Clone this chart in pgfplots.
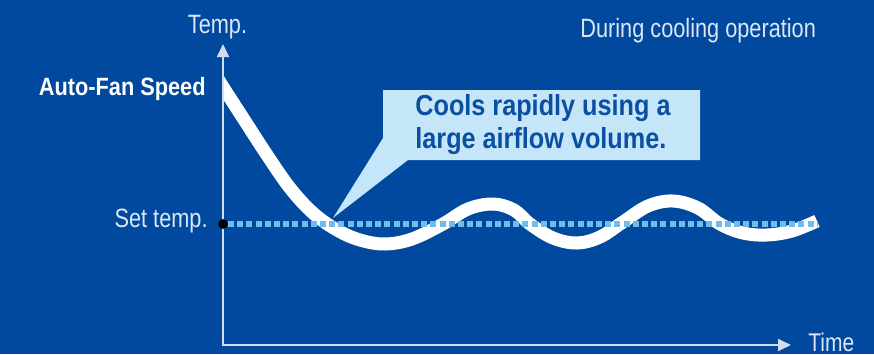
\documentclass[border=0pt]{standalone}
\usepackage{pgfplots}
\pgfplotsset{compat=1.18}
\usepackage{fontspec}
\setmainfont{Liberation Sans}[FakeStretch=0.82]
\newfontfamily\condbold{Liberation Sans}[FakeStretch=0.87]
\usetikzlibrary{arrows.meta}
\definecolor{bgblue}{RGB}{0,73,158}
\definecolor{calloutfill}{RGB}{197,229,248}
\definecolor{callouttext}{RGB}{11,79,163}
\definecolor{dashblue}{RGB}{111,188,235}
\definecolor{axiscol}{RGB}{208,220,240}
\definecolor{labelcol}{RGB}{220,230,245}
\begin{document}
\begin{tikzpicture}
\begin{axis}[
  width=437pt, height=177pt, scale only axis,
  xmin=0, xmax=874, ymin=0, ymax=354, y dir=reverse,
  axis lines=none, clip=false,
  axis background/.style={fill=bgblue},
]
% axes
\draw[axiscol, line width=1pt, -{Triangle[length=6.5pt,width=6pt]}] (axis cs:223,346) -- (axis cs:223,44);
\draw[axiscol, line width=1pt, -{Triangle[length=6.5pt,width=6pt]}] (axis cs:222,345) -- (axis cs:791,345);
% callout
\fill[calloutfill] (axis cs:383,90) -- (axis cs:700,90) -- (axis cs:700,160) -- (axis cs:408,160) -- (axis cs:333,218) -- (axis cs:383,138) -- cycle;
% temperature curve
\begin{scope}
\clip (axis cs:224,0) rectangle (axis cs:874,354);
\addplot[white, line width=6.5pt, smooth, tension=0.6] coordinates {
(218,79) (223,87) (243,118) (267,155) (290,188) (313,213) (337,230) (360,240) (385,244)
(412,239) (443,224) (468,209) (493,204) (514,210) (530,224) (553,238) (577,243)
(600,237) (623,222) (648,206) (673,201) (698,208) (720,224) (743,233) (767,235)
(792,231) (817,221)
};
\end{scope}
% set temperature
\addplot[dashblue, line width=2.75pt, dash pattern=on 3pt off 1.6pt] coordinates {(228,224) (817,224)};
\addplot[only marks, mark=*, mark size=2.2pt, black] coordinates {(223,224)};
% texts
\node[anchor=base, inner sep=0, text=labelcol, font=\fontsize{13.25}{16}\selectfont] at (axis cs:217.5,33) {Temp.};
\node[anchor=base west, inner sep=0, text=labelcol, font=\fontsize{13.25}{16}\selectfont] at (axis cs:580,37) {During cooling operation};
\node[anchor=base east, inner sep=0, text=white, font=\condbold\bfseries\fontsize{12.5}{15}\selectfont] at (axis cs:206,95) {Auto-Fan Speed};
\node[anchor=base east, inner sep=0, text=labelcol, font=\fontsize{13.25}{16}\selectfont] at (axis cs:208,227) {Set temp.};
\node[anchor=base west, inner sep=0, text=labelcol, font=\fontsize{12.8}{16}\selectfont] at (axis cs:808,351) {Time};
\node[anchor=base west, inner sep=0, text=callouttext, font=\condbold\bfseries\fontsize{14.5}{17}\selectfont] at (axis cs:415,115) {Cools rapidly using a};
\node[anchor=base west, inner sep=0, text=callouttext, font=\condbold\bfseries\fontsize{14.5}{17}\selectfont] at (axis cs:415,148) {large airflow volume.};
\end{axis}
\end{tikzpicture}
\end{document}
